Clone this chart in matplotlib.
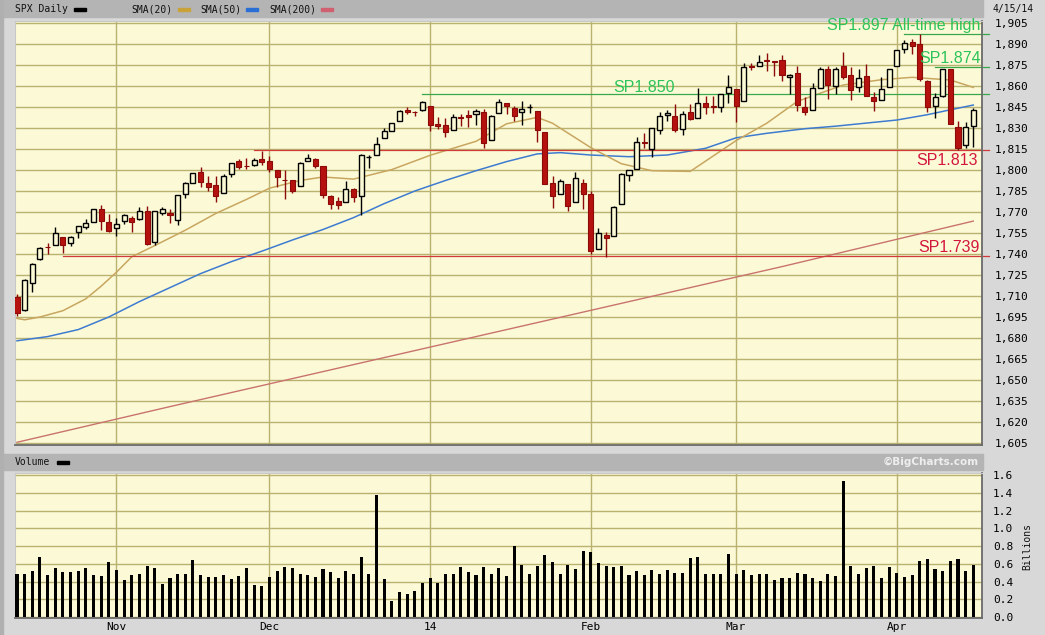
import numpy as np
import matplotlib
matplotlib.use("Agg")
from matplotlib import pyplot as plt
from matplotlib.patches import Rectangle

W, H = 1045, 635

# SPX daily, 10/15/13 .. 4/15/14 (one entry per trading day)
opens = [1709.0, 1700.0, 1719.5, 1736.5, 1745.2, 1746.5, 1752.3, 1747.5, 1756.0, 1759.4,
         1762.9, 1772.3, 1763.2, 1758.7, 1763.4, 1765.7, 1765.2, 1770.7, 1748.4, 1769.5,
         1769.5, 1764.4, 1782.8, 1790.7, 1798.8, 1790.8, 1789.6, 1783.5, 1797.2, 1806.3,
         1802.9, 1803.5, 1808.2, 1806.6, 1800.1, 1793.2, 1792.8, 1788.4, 1806.2, 1807.6,
         1802.8, 1781.7, 1778.0, 1777.5, 1786.5, 1781.5, 1809.0, 1810.4, 1822.9, 1828.0,
         1834.9, 1843.0, 1841.5, 1842.6, 1845.9, 1833.2, 1832.3, 1828.7, 1837.9, 1839.0,
         1840.0, 1841.3, 1821.4, 1840.5, 1848.0, 1844.2, 1841.1, 1844.7, 1842.3, 1827.0,
         1791.0, 1783.0, 1790.2, 1777.2, 1790.9, 1782.7, 1743.8, 1753.4, 1753.0, 1776.0,
         1796.2, 1800.5, 1820.1, 1814.9, 1828.5, 1839.0, 1838.9, 1829.2, 1841.1, 1836.8,
         1847.7, 1845.8, 1844.9, 1855.1, 1857.7, 1849.2, 1874.1, 1874.2, 1878.5, 1877.9,
         1878.3, 1866.2, 1869.1, 1845.1, 1842.8, 1858.9, 1872.3, 1860.1, 1874.5, 1867.7,
         1859.5, 1867.1, 1852.1, 1850.1, 1859.2, 1874.0, 1886.6, 1891.4, 1890.3, 1863.9,
         1845.5, 1852.6, 1872.3, 1830.7, 1818.2, 1831.4]
highs = [1711.5, 1721.8, 1733.5, 1745.3, 1747.8, 1759.3, 1752.3, 1753.2, 1759.8, 1764.9,
         1772.0, 1775.2, 1768.5, 1765.7, 1768.8, 1767.0, 1773.5, 1774.5, 1770.8, 1773.4,
         1771.8, 1782.0, 1791.5, 1798.2, 1802.3, 1795.5, 1795.7, 1797.2, 1804.8, 1808.1,
         1808.4, 1808.4, 1813.6, 1810.0, 1800.1, 1799.8, 1792.8, 1806.0, 1811.5, 1808.5,
         1803.0, 1782.5, 1780.9, 1792.2, 1786.8, 1811.1, 1810.9, 1823.8, 1829.8, 1833.3,
         1842.8, 1844.9, 1842.5, 1849.4, 1845.9, 1838.2, 1837.2, 1840.1, 1840.0, 1843.2,
         1843.5, 1843.5, 1839.3, 1850.8, 1848.0, 1846.0, 1849.3, 1846.9, 1842.3, 1827.0,
         1796.0, 1793.9, 1790.2, 1798.8, 1793.9, 1784.8, 1758.7, 1755.8, 1774.1, 1798.0,
         1799.9, 1823.5, 1826.6, 1830.3, 1841.7, 1842.9, 1847.5, 1842.1, 1846.9, 1858.7,
         1852.9, 1852.7, 1854.5, 1867.9, 1857.7, 1876.2, 1876.5, 1881.9, 1883.6, 1877.9,
         1882.4, 1868.4, 1874.4, 1852.4, 1862.3, 1873.8, 1874.1, 1873.5, 1884.0, 1873.3,
         1871.9, 1875.9, 1855.6, 1866.6, 1872.4, 1885.8, 1893.2, 1893.8, 1897.3, 1864.0,
         1855.0, 1872.4, 1872.5, 1835.1, 1834.2, 1844.0]
lows = [1695.5, 1699.0, 1713.0, 1735.5, 1740.0, 1746.2, 1740.7, 1745.5, 1751.3, 1757.7,
        1762.9, 1757.2, 1755.7, 1752.7, 1761.6, 1755.8, 1764.2, 1746.2, 1746.2, 1767.8,
        1762.3, 1760.6, 1780.2, 1790.7, 1788.2, 1784.7, 1777.2, 1783.5, 1794.7, 1800.6,
        1800.8, 1802.8, 1803.9, 1798.6, 1787.9, 1779.1, 1783.4, 1788.4, 1806.2, 1801.4,
        1780.1, 1772.4, 1772.4, 1777.5, 1777.2, 1768.0, 1801.7, 1810.4, 1822.9, 1828.0,
        1834.9, 1839.8, 1838.8, 1842.4, 1827.7, 1829.1, 1823.7, 1828.7, 1831.4, 1830.4,
        1832.4, 1815.5, 1821.4, 1840.5, 1840.3, 1835.2, 1832.4, 1840.9, 1820.1, 1790.3,
        1772.9, 1783.0, 1770.5, 1777.2, 1772.3, 1739.7, 1743.8, 1737.9, 1753.0, 1776.0,
        1791.8, 1800.5, 1816.0, 1809.2, 1825.9, 1835.0, 1827.0, 1824.9, 1835.6, 1836.8,
        1840.2, 1840.7, 1841.1, 1847.7, 1834.4, 1849.2, 1871.6, 1874.2, 1870.6, 1867.0,
        1863.9, 1854.4, 1841.9, 1839.6, 1842.8, 1858.9, 1850.4, 1854.6, 1865.0, 1849.7,
        1856.0, 1852.6, 1842.1, 1850.1, 1859.2, 1874.0, 1883.8, 1882.7, 1863.3, 1841.5,
        1837.5, 1852.4, 1833.0, 1814.4, 1815.8, 1816.3]
closes = [1698.1, 1721.5, 1733.2, 1744.5, 1744.7, 1754.7, 1746.4, 1752.1, 1759.8, 1762.1,
          1772.0, 1763.3, 1756.5, 1761.6, 1767.9, 1763.0, 1770.5, 1747.2, 1770.6, 1771.9,
          1767.7, 1782.0, 1790.6, 1798.2, 1791.5, 1787.9, 1781.4, 1795.9, 1804.8, 1802.5,
          1802.8, 1807.2, 1805.8, 1800.9, 1795.2, 1792.8, 1785.0, 1805.1, 1808.4, 1802.6,
          1782.2, 1775.5, 1775.3, 1786.5, 1781.0, 1810.7, 1809.6, 1818.3, 1828.0, 1833.3,
          1842.0, 1841.4, 1841.1, 1848.4, 1832.0, 1831.4, 1826.8, 1837.9, 1837.5, 1838.1,
          1842.4, 1819.2, 1838.9, 1848.4, 1845.9, 1838.7, 1843.8, 1844.9, 1828.5, 1790.3,
          1781.6, 1792.5, 1774.2, 1794.2, 1782.6, 1741.9, 1755.2, 1751.6, 1773.4, 1797.0,
          1799.8, 1819.8, 1819.3, 1829.8, 1838.6, 1840.8, 1828.8, 1839.8, 1836.3, 1847.6,
          1845.1, 1845.2, 1854.3, 1859.5, 1845.7, 1873.9, 1873.8, 1877.0, 1878.0, 1877.2,
          1867.6, 1868.2, 1846.3, 1841.1, 1858.8, 1872.3, 1860.8, 1872.0, 1866.5, 1857.4,
          1865.6, 1852.6, 1849.0, 1857.6, 1872.3, 1885.5, 1890.9, 1888.8, 1865.1, 1845.0,
          1852.0, 1872.2, 1833.1, 1815.7, 1830.6, 1843.0]
volumes = [0.49, 0.49, 0.52, 0.68, 0.47, 0.55, 0.51, 0.51, 0.52, 0.55,
           0.47, 0.46, 0.62, 0.53, 0.42, 0.47, 0.48, 0.57, 0.55, 0.37,
           0.44, 0.49, 0.49, 0.64, 0.47, 0.45, 0.45, 0.47, 0.43, 0.46,
           0.55, 0.36, 0.35, 0.45, 0.52, 0.56, 0.55, 0.49, 0.47, 0.45,
           0.54, 0.51, 0.44, 0.52, 0.49, 0.68, 0.49, 1.37, 0.43, 0.18,
           0.28, 0.26, 0.29, 0.38, 0.44, 0.38, 0.48, 0.48, 0.56, 0.51,
           0.47, 0.56, 0.49, 0.55, 0.46, 0.80, 0.59, 0.49, 0.57, 0.70,
           0.62, 0.48, 0.59, 0.54, 0.74, 0.73, 0.61, 0.57, 0.56, 0.57,
           0.47, 0.52, 0.47, 0.53, 0.48, 0.53, 0.50, 0.50, 0.66, 0.68,
           0.48, 0.48, 0.49, 0.71, 0.48, 0.53, 0.47, 0.48, 0.48, 0.42,
           0.44, 0.44, 0.50, 0.48, 0.44, 0.41, 0.49, 0.46, 1.53, 0.57,
           0.48, 0.55, 0.57, 0.44, 0.56, 0.50, 0.45, 0.47, 0.63, 0.65,
           0.54, 0.52, 0.63, 0.65, 0.52, 0.59]

# moving averages (day index, value)
sma20_days = [0, 1, 3, 6, 9, 11, 13, 15, 18, 22, 26, 30, 33, 37, 40, 44, 49, 54, 60, 64,
              68, 70, 75, 79, 83, 88, 94, 98, 102, 108, 113, 117, 122, 125]
sma20_vals = [1694, 1693, 1695, 1699.5, 1708, 1717, 1727, 1738, 1746, 1757, 1769, 1779,
              1787, 1792.5, 1795, 1793.5, 1800.3, 1810.5, 1820.5, 1833, 1837.6, 1833.4,
              1816, 1804.5, 1799.5, 1799, 1821, 1833.4, 1849, 1860.7, 1864.5, 1866.2,
              1864.3, 1859]
sma50_days = [0, 4, 8, 12, 16, 20, 24, 28, 32, 36, 40, 44, 48, 52, 56, 60, 64, 68, 71,
              75, 80, 85, 90, 94, 98, 103, 107, 111, 115, 119, 122, 125]
sma50_vals = [1678, 1681, 1686, 1695, 1706, 1716, 1726, 1734.5, 1742, 1750, 1757.5, 1766,
              1776, 1785, 1792.5, 1799.5, 1806, 1811.5, 1812.4, 1810.7, 1809.5, 1810.7,
              1815.5, 1823, 1826.2, 1829.5, 1831.3, 1833.5, 1835.7, 1839.5, 1843, 1846.4]
sma200_days = [0, 20, 40, 60, 80, 100, 110, 125]
sma200_vals = [1605.5, 1631, 1656, 1681, 1706, 1731, 1744, 1763.5]

month_days = [13, 33, 54, 75, 94, 115]
month_labels = ["Nov", "Dec", "14", "Feb", "Mar", "Apr"]
price_ticks = list(range(1605, 1906, 15))
vol_ticks = [0.0, 0.2, 0.4, 0.6, 0.8, 1.0, 1.2, 1.4, 1.6]

level_labels = ["SP1.897 All-time high", "SP1.874", "SP1.850", "SP1.813", "SP1.739"]
level_values = [1897.4, 1873.6, 1854.0, 1814.0, 1738.6]
level_start_days = [116, 120, 53, 31, 6]

CREAM = "#fcfad6"
GRID = "#b9b270"
MONO = "DejaVu Sans Mono"


def px_axes(fig, left, top, right, bottom, **kw):
    return fig.add_axes([left / W, 1 - bottom / H, (right - left) / W, (bottom - top) / H], **kw)


fig = plt.figure(figsize=(W / 100, H / 100), dpi=100)
fig.patch.set_facecolor("#d8d8d8")

# chrome: header bands, legend keys
bg = fig.add_axes([0, 0, 1, 1], zorder=-10)
bg.set_xlim(0, W)
bg.set_ylim(H, 0)
bg.axis("off")
bg.add_patch(Rectangle((0, 0), 983, 17, color="#b4b4b4"))
bg.add_patch(Rectangle((0, 454), 983, 16, color="#b4b4b4"))
bg.add_patch(Rectangle((0, 0), 3, H, color="#b0b0b0"))
bg.text(15, 9, "SPX Daily", family=MONO, fontsize=7, va="center", color="#111111")
bg.add_patch(Rectangle((74, 7.5), 12, 3.5, color="black"))
bg.text(131, 9, "SMA(20)", family=MONO, fontsize=7, va="center", color="#111111")
bg.add_patch(Rectangle((178, 7.5), 12, 3.5, color="#c9a33a"))
bg.text(200, 9, "SMA(50)", family=MONO, fontsize=7, va="center", color="#111111")
bg.add_patch(Rectangle((246, 7.5), 12, 3.5, color="#2a6fd6"))
bg.text(269, 9, "SMA(200)", family=MONO, fontsize=7, va="center", color="#111111")
bg.add_patch(Rectangle((321, 7.5), 12, 3.5, color="#d06070"))
bg.text(1013, 9, "4/15/14", family=MONO, fontsize=7, va="center", ha="center", color="#111111")
bg.text(15, 462, "Volume", family=MONO, fontsize=7, va="center", color="#111111")
bg.add_patch(Rectangle((57, 460.5), 12, 3.5, color="black"))
bg.text(979, 462, "\u00a9BigCharts.com", fontsize=7.5, fontweight="bold", va="center",
        ha="right", color="#eeeeee")
bg.text(1027, 547, "Billions", family=MONO, fontsize=7, va="center", ha="center",
        rotation=90, color="#111111")

days = np.arange(len(closes))
o = np.array(opens)
h = np.array(highs)
l = np.array(lows)
c = np.array(closes)
up = c >= o

# price panel
ax = px_axes(fig, 15, 21, 982, 445)
ax.set_facecolor(CREAM)
ax.set_xlim(-0.26, 126.14)
ax.set_ylim(1603.57, 1906.43)
ax.set_yticks(price_ticks)
ax.set_yticklabels([f"{v:,}" for v in price_ticks], family=MONO, fontsize=8)
ax.yaxis.tick_right()
ax.tick_params(axis="y", length=0, pad=9)
ax.set_xticks(month_days)
ax.tick_params(axis="x", length=0, labelbottom=False)
ax.grid(True, color=GRID, lw=1)
ax.set_axisbelow(True)
for side in ["left", "top"]:
    ax.spines[side].set_color("#c8c8c8")
for side in ["right", "bottom"]:
    ax.spines[side].set_color("#6a6a6a")
    ax.spines[side].set_linewidth(1.3)

ax.plot(sma200_days, sma200_vals, color="#c9736e", lw=1.0, zorder=2)
ax.plot(sma50_days, sma50_vals, color="#3e7bd0", lw=1.1, zorder=2)
ax.plot(sma20_days, sma20_vals, color="#c8a660", lw=1.1, zorder=2)

for txt, val, start in zip(level_labels, level_values, level_start_days):
    col = "#3aa84a" if val > 1840 else "#cf3b3b"
    ax.plot([start, 127.1], [val, val], color=col, lw=0.9, zorder=2.5, clip_on=False)

ax.vlines(days[up], l[up], h[up], color="black", lw=1, zorder=3)
ax.vlines(days[~up], l[~up], h[~up], color="#8c0a0a", lw=1, zorder=3)
ax.bar(days[up], np.maximum(c[up] - o[up], 0.3), bottom=o[up], width=0.66,
       facecolor=CREAM, edgecolor="black", lw=1, zorder=4)
ax.bar(days[~up], np.maximum(o[~up] - c[~up], 0.3), bottom=c[~up], width=0.66,
       facecolor="#b5120f", edgecolor="#8c0a0a", lw=0.8, zorder=4)

green_txt = "#2cc35a"
red_txt = "#d3163e"
ann = dict(fontsize=11.5, family="Liberation Sans", va="baseline", zorder=6,
           annotation_clip=False)
ax.annotate(level_labels[0], xy=(1, level_values[0]), xycoords=("axes fraction", "data"),
            xytext=(-1.0, 2.7), textcoords="offset points", ha="right", color=green_txt, **ann)
ax.annotate(level_labels[1], xy=(1, level_values[1]), xycoords=("axes fraction", "data"),
            xytext=(-0.7, 3.1), textcoords="offset points", ha="right", color=green_txt, **ann)
ax.annotate(level_labels[2], xy=(77.9, level_values[2]), xycoords="data",
            xytext=(0, 1.6), textcoords="offset points", ha="left", color=green_txt, **ann)
ax.annotate(level_labels[3], xy=(1, level_values[3]), xycoords=("axes fraction", "data"),
            xytext=(-2.7, -10.2), textcoords="offset points", ha="right", color=red_txt, **ann)
ax.annotate(level_labels[4], xy=(1, level_values[4]), xycoords=("axes fraction", "data"),
            xytext=(-2.0, 3.1), textcoords="offset points", ha="right", color=red_txt, **ann)

# volume panel
vax = px_axes(fig, 15, 473, 982, 618)
vax.set_facecolor(CREAM)
vax.set_xlim(-0.26, 126.14)
vax.set_ylim(-0.011, 1.6225)
vax.set_yticks(vol_ticks)
vax.set_yticklabels([f"{v:.1f}" for v in vol_ticks], family=MONO, fontsize=8)
vax.yaxis.tick_right()
vax.tick_params(axis="y", length=0, pad=8)
vax.set_xticks(month_days)
vax.set_xticklabels(month_labels, family=MONO, fontsize=8)
vax.tick_params(axis="x", length=0, pad=3)
vax.grid(True, color=GRID, lw=1)
vax.set_axisbelow(True)
for side in ["left", "top"]:
    vax.spines[side].set_color("#c8c8c8")
for side in ["right", "bottom"]:
    vax.spines[side].set_color("#6a6a6a")
    vax.spines[side].set_linewidth(1.3)
vax.bar(days, volumes, width=0.4, color="black", zorder=3)

fig.savefig("out.png", dpi=100, facecolor=fig.get_facecolor())
